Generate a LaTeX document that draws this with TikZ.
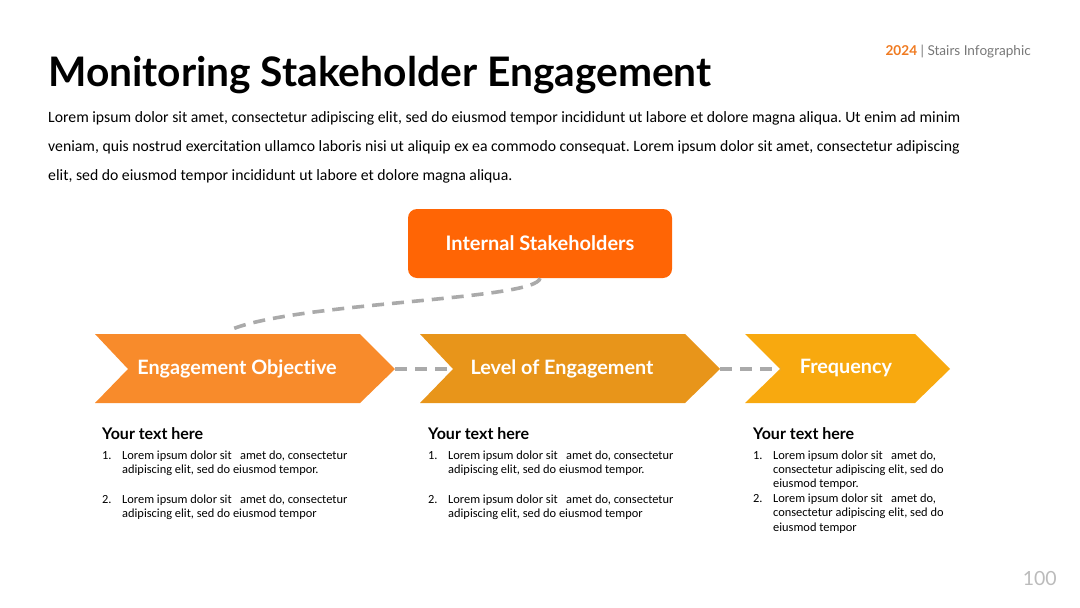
\documentclass[tikz,border=0pt]{standalone}
\usepackage{fontspec}
\setmainfont{Carlito}[Ligatures={NoCommon}]
\newfontfamily\lato{Lato}[Ligatures={NoCommon}]
\frenchspacing
\usetikzlibrary{positioning}
\definecolor{cA}{HTML}{F88B2B}
\definecolor{cB}{HTML}{E8951A}
\definecolor{cC}{HTML}{F8A90F}
\definecolor{cBox}{HTML}{FF6505}
\definecolor{dashgray}{HTML}{AAAAAA}
\definecolor{numgray}{HTML}{BBBBBB}
\definecolor{subgray}{HTML}{777777}
\definecolor{yearor}{HTML}{F07A20}
\tikzset{
  chevtext/.style={text=white,font=\lato\bfseries\fontsize{19.8}{22}\selectfont,inner sep=0pt},
  dashcon/.style={draw=dashgray,line width=3.6pt,dash pattern=on 12pt off 8pt},
  colhead/.style={anchor=base west,inner sep=0pt,font=\lato\bfseries\fontsize{16}{19}\selectfont},
  listln/.style={anchor=base west,inner sep=0pt,font=\fontsize{12.4}{14.5}\selectfont},
  bodytxt/.style={anchor=base west,inner sep=0pt,font=\fontsize{15.75}{29}\selectfont}
}
\begin{document}
\begin{tikzpicture}[x=1pt,y=-1pt]
\useasboundingbox (0,0) rectangle (1080,608);
% header
\node[anchor=base west,inner sep=0pt,font=\lato\bfseries\fontsize{40.7}{48}\selectfont] (title) at (48,86) {Monitoring Stakeholder Engagement};
\node[anchor=base east,inner sep=0pt,font=\lato\fontsize{13.6}{15}\selectfont,text=subgray] (sub) at (1031,55) {\textcolor{yearor}{\bfseries 2024} | Stairs Infographic};
\node[bodytxt] (p1) at (48,122) {Lorem ipsum dolor sit amet, consectetur adipiscing elit, sed do eiusmod tempor incididunt ut labore et dolore magna aliqua. Ut enim ad minim};
\node[bodytxt] (p2) at (48,151) {veniam, quis nostrud exercitation ullamco laboris nisi ut aliquip ex ea commodo consequat. Lorem ipsum dolor sit amet, consectetur adipiscing};
\node[bodytxt] (p3) at (48,180) {elit, sed do eiusmod tempor incididunt ut labore et dolore magna aliqua.};
% top box
\node[fill=cBox,rounded corners=9pt,minimum width=264pt,minimum height=69pt,inner sep=0pt,text=white,font=\lato\bfseries\fontsize{20}{22}\selectfont] (box) at (540,243.5) {Internal Stakeholders};
% chevrons
\fill[cA] (95,334) -- (360,334) -- (395,369) coordinate (tip1) -- (360,403) -- (95,403) -- (128,369) coordinate (notch1) -- cycle;
\fill[cB] (420,334) -- (685,334) -- (720,369) coordinate (tip2) -- (685,403) -- (420,403) -- (453,369) coordinate (notch2) -- cycle;
\fill[cC] (745,334) -- (915,334) -- (950,369) coordinate (tip3) -- (915,403) -- (745,403) -- (780,369) coordinate (notch3) -- cycle;
\coordinate (top1) at (230,330);
\node[chevtext] (ch1) at (237,369) {Engagement Objective};
\node[chevtext] (ch2) at (562,369) {Level of Engagement};
\node[chevtext] (ch3) at (846,368) {Frequency};
% connectors
\draw[dashcon] (tip1) -- (notch2);
\draw[dashcon] (tip2) -- (notch3);
\draw[dashcon] (box.south) .. controls ++(-3,22) and (295,302) .. (top1);
% columns
\node[colhead] (h1) at (102,439) {Your text here};
\node[colhead] (h2) at (428,439) {Your text here};
\node[colhead] (h3) at (753,439) {Your text here};
% col 1
\node[listln] (n11) at (102,459) {1.};
\node[listln] (a11) at (122,459) {Lorem ipsum dolor sit\ \ \ amet do, consectetur};
\node[listln] (b11) at (122,473) {adipiscing elit, sed do eiusmod tempor.};
\node[listln] (n12) at (102,503) {2.};
\node[listln] (a12) at (122,503) {Lorem ipsum dolor sit\ \ \ amet do, consectetur};
\node[listln] (b12) at (122,517.5) {adipiscing elit, sed do eiusmod tempor};
% col 2
\node[listln] (n21) at (428,459) {1.};
\node[listln] (a21) at (448,459) {Lorem ipsum dolor sit\ \ \ amet do, consectetur};
\node[listln] (b21) at (448,473) {adipiscing elit, sed do eiusmod tempor.};
\node[listln] (n22) at (428,503) {2.};
\node[listln] (a22) at (448,503) {Lorem ipsum dolor sit\ \ \ amet do, consectetur};
\node[listln] (b22) at (448,517.5) {adipiscing elit, sed do eiusmod tempor};
% col 3
\node[listln] (n31) at (753,459) {1.};
\node[listln] (a31) at (773,459) {Lorem ipsum dolor sit\ \ \ amet do,};
\node[listln] (b31) at (773,473) {consectetur adipiscing elit, sed do};
\node[listln] (c31) at (773,487.5) {eiusmod tempor.};
\node[listln] (n32) at (753,502) {2.};
\node[listln] (a32) at (773,502) {Lorem ipsum dolor sit\ \ \ amet do,};
\node[listln] (b32) at (773,516.5) {consectetur adipiscing elit, sed do};
\node[listln] (c32) at (773,531) {eiusmod tempor};
% page number
\node[anchor=base east,inner sep=0pt,text=numgray,font=\lato\fontsize{19.5}{20}\selectfont] (pg) at (1057,585) {100};
\end{tikzpicture}
\end{document}
